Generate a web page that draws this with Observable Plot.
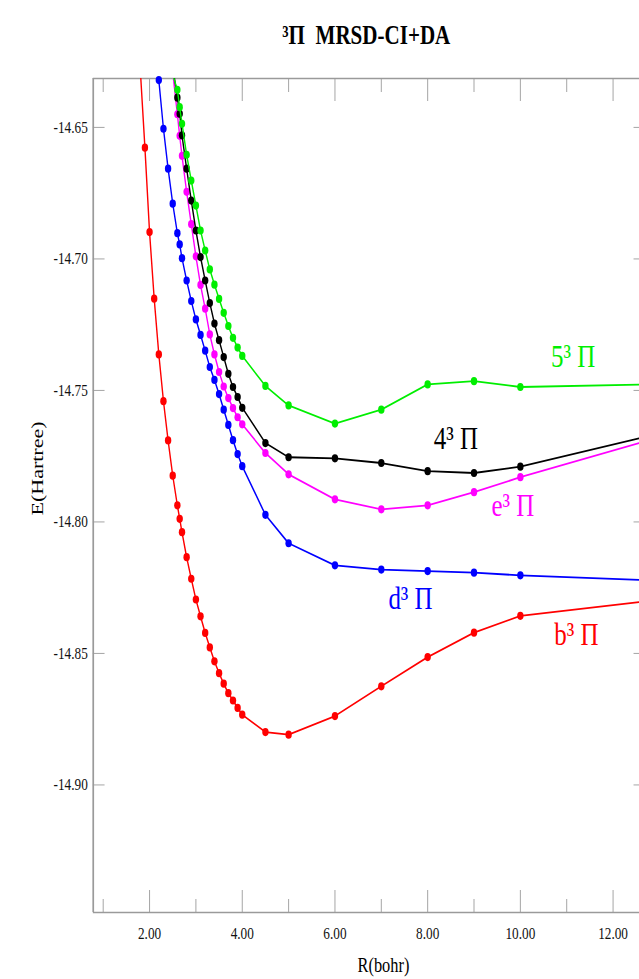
<!DOCTYPE html>
<html><head><meta charset="utf-8">
<script src="https://cdn.jsdelivr.net/npm/d3@7"></script>
<script src="https://cdn.jsdelivr.net/npm/@observablehq/plot@0.6"></script>
<style>html,body{margin:0;padding:0;background:#fff;overflow:hidden}</style>
</head><body>
<script>
// ---- data (R in bohr, E in Hartree) ----
const R_short = [2.6,2.65,2.7,2.8,2.9,3.0,3.1,3.2,3.3,3.4,3.5,3.6,3.7,3.8,3.9,4.0,4.5,5.0,6.0,7.0,8.0,9.0,10.0];
const R_b = [1.9,2.0,2.1,2.2,2.3,2.4,2.5,2.6,2.65,2.7,2.8,2.9,3.0,3.1,3.2,3.3,3.4,3.5,3.6,3.7,3.8,3.9,4.0,4.5,5.0,6.0,7.0,8.0,9.0,10.0];
const E_b = [-14.6577,-14.6898,-14.7151,-14.7363,-14.7541,-14.7690,-14.7824,-14.7937,-14.7988,-14.8039,-14.8134,-14.8216,-14.8295,-14.8359,-14.8422,-14.8477,-14.8530,-14.8575,-14.8615,-14.8651,-14.8679,-14.8707,-14.8733,-14.8799,-14.8809,-14.8738,-14.8625,-14.8514,-14.8421,-14.8357];
const R_d = [2.2,2.3,2.4,2.5,2.6,2.65,2.7,2.8,2.9,3.0,3.1,3.2,3.3,3.4,3.5,3.6,3.7,3.8,3.9,4.0,4.5,5.0,6.0,7.0,8.0,9.0,10.0];
const E_d = [-14.6320,-14.6505,-14.6657,-14.6790,-14.6902,-14.6945,-14.6997,-14.7082,-14.7160,-14.7230,-14.7289,-14.7349,-14.7411,-14.7460,-14.7514,-14.7573,-14.7631,-14.7689,-14.7742,-14.7788,-14.7973,-14.8081,-14.8165,-14.8181,-14.8187,-14.8193,-14.8203];
const E_e = [-14.6450,-14.6532,-14.6608,-14.6745,-14.6868,-14.6990,-14.7099,-14.7189,-14.7287,-14.7363,-14.7430,-14.7485,-14.7529,-14.7567,-14.7602,-14.7629,-14.7738,-14.7819,-14.7914,-14.7952,-14.7937,-14.7887,-14.7830];
const E_4 = [-14.6387,-14.6448,-14.6530,-14.6657,-14.6778,-14.6892,-14.6993,-14.7082,-14.7168,-14.7246,-14.7309,-14.7373,-14.7437,-14.7487,-14.7525,-14.7566,-14.7700,-14.7754,-14.7758,-14.7776,-14.7807,-14.7814,-14.7790];
const E_5 = [-14.6357,-14.6423,-14.6486,-14.6604,-14.6702,-14.6797,-14.6892,-14.6968,-14.7040,-14.7098,-14.7152,-14.7205,-14.7255,-14.7300,-14.7337,-14.7369,-14.7483,-14.7557,-14.7626,-14.7573,-14.7477,-14.7465,-14.7487];
// line continues beyond the plotted points (no markers)
const head_b = [1.8, -14.628], head_e = [2.5, -14.629], head_4 = [2.5, -14.627], head_5 = [2.5, -14.630];
const tailR = 12.56;
const tail_b = -14.8305, tail_d = -14.8220, tail_e = -14.7700, tail_4 = -14.7682, tail_5 = -14.7478;

const stateNames = ["b³ Π", "d³ Π", "e³ Π", "4³ Π", "5³ Π"];
const stateColors = ["#ff0000", "#0000ff", "#ff00ff", "#000000", "#00ee00"];
const labelR = [11.21, 7.63, 9.84, 8.61, 11.14];
const labelE = [-14.8428, -14.8292, -14.7937, -14.7684, -14.7371];

const xDomain = [0.785, 12.568];
const yDomain = [-14.9485, -14.6314];
const xMajor = [2, 4, 6, 8, 10, 12];
const xMinor = [1, 3, 5, 7, 9, 11];
const yMajor = [-14.90, -14.85, -14.80, -14.75, -14.70, -14.65];
const titleText = "³Π  MRSD-CI+DA";
const xLabel = "R(bohr)";
const yLabel = "E(Hartree)";

// ---- build ----
const zip = (R, E) => R.map((r, i) => [r, E[i]]);
const series = [
  {pts: zip(R_b, E_b), head: head_b, tail: tail_b},
  {pts: zip(R_d, E_d), head: null, tail: tail_d},
  {pts: zip(R_short, E_e), head: head_e, tail: tail_e},
  {pts: zip(R_short, E_4), head: head_4, tail: tail_4},
  {pts: zip(R_short, E_5), head: head_5, tail: tail_5}
];
const labels = stateNames.map((n, i) => ({name: n, color: stateColors[i], R: labelR[i], E: labelE[i]}));

const frameC = "#9a9a9a";
const curveMarks = [];
series.forEach((s, i) => {
  const linePts = [...(s.head ? [s.head] : []), ...s.pts, [tailR, s.tail]];
  curveMarks.push(Plot.line(linePts, {x: d => d[0], y: d => d[1], stroke: stateColors[i], strokeWidth: 1.8, clip: true}));
  curveMarks.push(Plot.dot(s.pts, {x: d => d[0], y: d => d[1], fill: stateColors[i], r: 4.1, stroke: "none"}));
});

const W = 819, H = 979;
const chart = Plot.plot({
  width: W, height: H,
  marginLeft: 119, marginRight: 0, marginTop: 78, marginBottom: 67,
  style: {fontFamily: "'Liberation Serif', 'Times New Roman', serif", background: "#fff", color: "#000"},
  x: {domain: xDomain, axis: null},
  y: {domain: yDomain, axis: null},
  marks: [
    Plot.ruleY(yDomain, {stroke: frameC, strokeWidth: 1.6}),
    Plot.ruleX([xDomain[0]], {stroke: frameC, strokeWidth: 2.2}),
    Plot.axisX(xMajor, {anchor: "bottom", tickSize: -22, tickFormat: () => "", stroke: frameC, label: null}),
    Plot.axisX(xMinor, {anchor: "bottom", tickSize: -13, tickFormat: () => "", stroke: frameC, label: null}),
    Plot.axisX(xMajor, {anchor: "top", tickSize: -22, tickFormat: () => "", stroke: frameC, label: null}),
    Plot.axisX(xMinor, {anchor: "top", tickSize: -13, tickFormat: () => "", stroke: frameC, label: null}),
    Plot.axisX(xMajor, {anchor: "bottom", tickSize: 0, tickPadding: 14, tickFormat: d => d.toFixed(2), fontSize: 17, fill: "#111", label: null}),
    Plot.axisY(yMajor, {anchor: "left", tickSize: -15, tickFormat: () => "", stroke: frameC, label: null}),
    Plot.axisY(yMajor, {anchor: "right", tickSize: -8, tickFormat: () => "", stroke: frameC, label: null}),
    Plot.axisY(yMajor, {anchor: "left", tickSize: 0, tickPadding: 7, tickFormat: d => d.toFixed(2), fontSize: 17, fill: "#111", label: null}),
    ...curveMarks,
    Plot.text(labels, {x: "R", y: "E", text: "name", fill: "color", fontSize: 32, textAnchor: "middle", lineAnchor: "middle"}),
    Plot.text([titleText], {text: d => d, frameAnchor: "top", dy: -43, fontSize: 27, fontWeight: "bold", lineAnchor: "middle"}),
    Plot.text([xLabel], {text: d => d, frameAnchor: "bottom", dy: 53, dx: 22, fontSize: 21, lineAnchor: "middle"}),
    Plot.text([yLabel], {text: d => d, frameAnchor: "left", dx: -72, dy: 20, rotate: -90, fontSize: 22, lineAnchor: "middle"})
  ]
});
// reference image is horizontally compressed: squeeze the whole drawing to 639 px wide
chart.setAttribute("width", 639);
chart.setAttribute("height", H);
chart.setAttribute("preserveAspectRatio", "none");
chart.style.width = "639px";
chart.style.height = H + "px";
chart.style.maxWidth = "none";
chart.style.display = "block";
document.body.append(chart);
</script>
</body></html>
